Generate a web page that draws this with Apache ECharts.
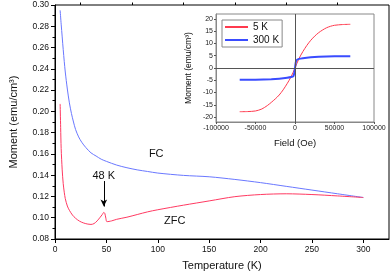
<!DOCTYPE html>
<html><head><meta charset="utf-8">
<script src="https://cdn.jsdelivr.net/npm/echarts@6/dist/echarts.min.js"></script>
<style>html,body{margin:0;padding:0;background:#fff}#c{width:392px;height:276px}</style>
</head><body><div id="c"></div>
<script>
// Main plot: FC and ZFC moment vs temperature
const fcT = [5,6,7,8,9,10,12,14,16,18,20,23,26,30,35,40,45,50,60,70,80,90,100,125,150,175,200,225,250,275,300];
const fcM = [0.295,0.282,0.270,0.258,0.247,0.237,0.221,0.208,0.198,0.190,0.183,0.176,0.171,0.166,0.161,0.158,0.155,0.153,0.1495,0.147,0.145,0.1435,0.142,0.1398,0.1385,0.136,0.133,0.1295,0.126,0.1225,0.119];
const zfcT = [5,5.5,6,7,8,9,10,12,14,17,20,24,28,32,35,38,41,44,46,47.5,48.5,49.5,50.5,55,60,70,80,90,100,125,150,175,200,225,250,275,300];
const zfcM = [0.207,0.185,0.165,0.145,0.132,0.124,0.118,0.111,0.107,0.1025,0.0995,0.0967,0.095,0.094,0.0937,0.0945,0.097,0.1005,0.103,0.105,0.104,0.0995,0.0963,0.097,0.0985,0.1005,0.103,0.1055,0.1075,0.1118,0.1158,0.1198,0.1218,0.1225,0.1218,0.1205,0.119];
const tempTicks = [0,50,100,150,200,250,300];
const tempMinor = [25,75,125,175,225,275];
// Inset: hysteresis loops
const h5K = [-70000,-60000,-50000,-42000,-35000,-30000,-25000,-20000,-15000,-10000,-5000,0,5000,10000,15000,20000,25000,30000,35000,40000,45000,50000,60000,70000];
const m5K = [-17.8,-17.75,-17.5,-16.7,-15.3,-14.0,-12.6,-11.0,-8.9,-6.4,-3.6,0,3.8,6.7,9.2,11.3,13.0,14.4,15.5,16.4,17.0,17.4,17.7,17.8];
const h300K = [-70000,-50000,-30000,-20000,-10000,-5000,-2000,-1000,0,1000,2000,5000,10000,20000,30000,50000,70000];
const m300K = [-4.8,-4.75,-4.55,-4.35,-4.0,-3.7,-3.3,-2.2,0,2.4,3.2,3.7,4.0,4.35,4.55,4.75,4.8];
const insetYTicks = [-20,-15,-10,-5,0,5,10,15,20];

const zip = (a,b)=>a.map((v,i)=>[v,b[i]]);
const FONT = 'Liberation Sans, Arial, sans-serif';
const chart = echarts.init(document.getElementById('c'), null, {renderer:'canvas'});
chart.setOption({
  animation:false,
  backgroundColor:'#fff',
  textStyle:{fontFamily:FONT},
  grid:[
    {left:52, top:5, width:337, height:236, show:true, borderColor:'#000', borderWidth:1, backgroundColor:'transparent'},
    {left:216, top:14, width:158, height:108, show:true, borderColor:'#888', borderWidth:1, backgroundColor:'#fff'}
  ],
  xAxis:[
    {gridIndex:0, type:'value', min:0, max:325, interval:50,
     name:'Temperature (K)', nameLocation:'middle', nameGap:21,
     nameTextStyle:{fontSize:11, color:'#111', fontFamily:FONT},
     axisLine:{lineStyle:{color:'#000'}},
     axisTick:{length:4, customValues:tempTicks, lineStyle:{color:'#000'}},
     axisLabel:{customValues:tempTicks, fontSize:8.5, color:'#111', margin:6, fontFamily:FONT},
     splitLine:{show:false}},
    {gridIndex:0, type:'value', min:0, max:325,
     axisLine:{show:false},
     axisTick:{length:2.5, customValues:tempMinor, lineStyle:{color:'#000'}},
     axisLabel:{show:false}, splitLine:{show:false}},
    {gridIndex:1, type:'value', min:-100000, max:100000, interval:50000,
     name:'Field (Oe)', nameLocation:'middle', nameGap:16,
     nameTextStyle:{fontSize:9.5, color:'#111', fontFamily:FONT},
     axisLine:{onZero:false, lineStyle:{color:'#888'}},
     axisTick:{length:2, lineStyle:{color:'#555'}},
     axisLabel:{fontSize:7, color:'#222', margin:3, fontFamily:FONT, formatter:v=>String(Math.round(v))},
     splitLine:{show:false}}
  ],
  yAxis:[
    {gridIndex:0, type:'value', min:0.08, max:0.30, interval:0.02,
     name:'Moment (emu/cm³)', nameLocation:'middle', nameGap:36,
     nameTextStyle:{fontSize:11, color:'#111', fontFamily:FONT},
     axisLine:{lineStyle:{color:'#000'}},
     axisTick:{length:4, lineStyle:{color:'#000'}},
     minorTick:{show:true, splitNumber:2, length:2.5, lineStyle:{color:'#000'}},
     axisLabel:{fontSize:8.5, color:'#111', margin:6, formatter:v=>v.toFixed(2), fontFamily:FONT},
     splitLine:{show:false}},
    {gridIndex:1, type:'value', min:-22, max:22,
     name:'Moment (emu/cm³)', nameLocation:'middle', nameGap:23,
     nameTextStyle:{fontSize:8.5, color:'#111', fontFamily:FONT},
     axisLine:{onZero:false, lineStyle:{color:'#888'}},
     axisTick:{length:2, customValues:insetYTicks, lineStyle:{color:'#555'}},
     axisLabel:{customValues:insetYTicks, fontSize:7, color:'#222', margin:3, fontFamily:FONT},
     splitLine:{show:false}}
  ],
  legend:{
    data:['5 K','300 K'], left:222, top:20, orient:'vertical',
    itemWidth:23, itemHeight:2, itemGap:3, padding:[2,3,2,3],
    borderColor:'#888', borderWidth:1, backgroundColor:'#fff',
    textStyle:{fontSize:10, color:'#111', fontFamily:FONT},
    icon:'rect'
  },
  series:[
    {name:'FC', type:'line', xAxisIndex:0, yAxisIndex:0, data:zip(fcT,fcM), showSymbol:false, smooth:0.3,
     lineStyle:{color:'#6a78ff', width:1}, itemStyle:{color:'#6a78ff'},
     markPoint:{symbol:'circle', symbolSize:0, silent:true,
       label:{show:true, color:'#111', fontSize:11, fontFamily:FONT, formatter:p=>p.name},
       data:[{name:'FC', coord:[98.5,0.1597]},{name:'ZFC', coord:[116.5,0.0965]},{name:'48 K', coord:[47.5,0.139]}]}},
    {name:'ZFC', type:'line', xAxisIndex:0, yAxisIndex:0, data:zip(zfcT,zfcM), showSymbol:false, smooth:0.3,
     lineStyle:{color:'#ff3a62', width:1}, itemStyle:{color:'#ff3a62'},
     markLine:{silent:true, symbol:['none','arrow'], symbolSize:[5,7], animation:false,
       lineStyle:{color:'#000', width:1, type:'solid'}, label:{show:false},
       data:[[{coord:[47.5,0.1345]},{coord:[47.5,0.1105]}]]}},
    {name:'5 K', type:'line', xAxisIndex:2, yAxisIndex:1, data:zip(h5K,m5K), showSymbol:false, smooth:0.3,
     lineStyle:{color:'#ff3a4e', width:1}, itemStyle:{color:'#ff3a4e'},
     markLine:{silent:true, symbol:'none', animation:false, label:{show:false},
       lineStyle:{color:'#555', width:1, type:'solid'},
       data:[{xAxis:0},{yAxis:0}]}},
    {name:'300 K', type:'line', xAxisIndex:2, yAxisIndex:1, data:zip(h300K,m300K), showSymbol:false, smooth:0.2,
     lineStyle:{color:'#3a4cff', width:2}, itemStyle:{color:'#3a4cff'}}
  ]
});
</script></body></html>
